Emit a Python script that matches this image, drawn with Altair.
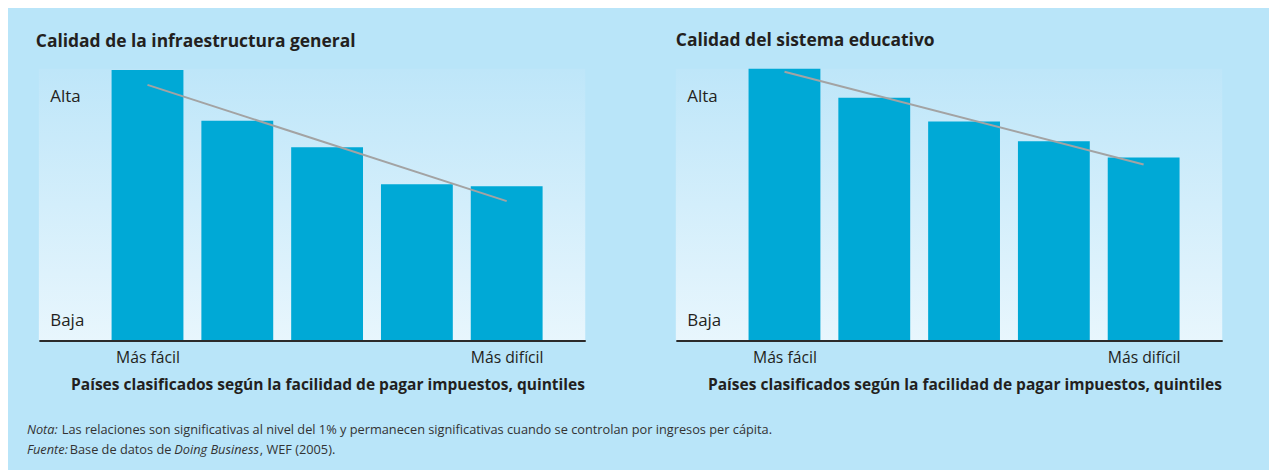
import altair as alt
import pandas as pd

# ---------------- data ----------------
quintiles = [1, 2, 3, 4, 5]
infra_values = [99.6, 80.9, 71.1, 57.5, 56.8]
edu_values = [100.0, 89.4, 80.6, 73.3, 67.4]
trend_q = [1, 5]
infra_trend = [94.1, 51.3]
edu_trend = [98.9, 64.8]
y_tick_values = [7.3, 89.7]
y_tick_labels = ["Baja", "Alta"]
x_tick_values = [1, 5]
x_tick_labels = ["Más fácil", "Más difícil"]
panel_titles = ["Calidad de la infraestructura general", "Calidad del sistema educativo"]
x_title = "Países clasificados según la facilidad de pagar impuestos, quintiles"
note_texts = ["Nota:", "Las relaciones son significativas al nivel del 1% y permanecen significativas cuando se controlan por ingresos per cápita."]
source_texts = ["Fuente:", "Base de datos de", "Doing Business", ", WEF (2005)."]

# ---------------- style ----------------
W, H = 549, 273
FONT = "Open Sans"
TXT = "#231f20"
BG = "#b9e5f9"
BAR = "#00a9d6"

xscale = alt.Scale(domain=[-0.21, 5.875], nice=False, zero=False)
yscale = alt.Scale(domain=[0, 100], nice=False)

x_label_expr = f"datum.value == {x_tick_values[0]} ? '{x_tick_labels[0]}' : '{x_tick_labels[1]}'"
y_label_expr = f"datum.value < 50 ? '{y_tick_labels[0]}' : '{y_tick_labels[1]}'"


def panel(title, values, trend, title_dx, footnote=False):
    df = pd.DataFrame({"q": quintiles, "v": values})
    tdf = pd.DataFrame({"q": trend_q, "v": trend})

    bg = alt.Chart(pd.DataFrame({"a": [0]})).mark_rect(
        color=alt.Gradient(
            gradient="linear",
            stops=[alt.GradientStop(color="#bee6f9", offset=0),
                   alt.GradientStop(color="#e8f6fd", offset=1)],
            x1=0, x2=0, y1=0, y2=1,
        )
    ).encode(x=alt.value(0), x2=alt.value(W), y=alt.value(0), y2=alt.value(H))

    bars = alt.Chart(df).transform_calculate(
        x0="datum.q - 0.4", x1="datum.q + 0.4"
    ).mark_rect(color=BAR).encode(
        x=alt.X("x0:Q", scale=xscale, axis=alt.Axis(
            values=x_tick_values, labelExpr=x_label_expr, title=x_title,
            grid=False, ticks=False, tickSize=0, domainColor="#2b2b2b", domainWidth=2,
            labelFont=FONT, labelFontSize=15.8, labelColor=TXT, labelPadding=10,
            titleFont=FONT, titleFontSize=15.6, titleFontWeight="bold", titleColor=TXT,
            titleX=290, titleY=44, titleBaseline="middle", zindex=1)),
        x2="x1:Q",
        y=alt.Y("v:Q", scale=yscale, axis=alt.Axis(
            values=y_tick_values, labelExpr=y_label_expr, title=None,
            grid=False, ticks=False, tickSize=0, domain=False,
            labelFont=FONT, labelFontSize=17, labelColor=TXT,
            labelAlign="left", labelPadding=-11, labelBaseline="middle", zindex=1)),
        y2=alt.datum(0),
    )

    line = alt.Chart(tdf).mark_line(color="#a3a3a3", strokeWidth=2).encode(
        x=alt.X("q:Q", scale=xscale), y=alt.Y("v:Q", scale=yscale))

    layers = [bg, bars, line]

    if footnote:
        def txt(s, x, y, italic=False):
            return alt.Chart(pd.DataFrame({"t": [s]})).mark_text(
                font=FONT, fontSize=12.85, color="#333333", align="left", baseline="middle",
                fontStyle="italic" if italic else "normal",
            ).encode(x=alt.value(x), y=alt.value(y), text="t:N")
        layers += [
            txt(note_texts[0], -12, 363, True),
            txt(note_texts[1], 23, 363),
            txt(source_texts[0], -12, 383, True),
            txt(source_texts[1], 31, 383),
            txt(source_texts[2], 136, 383, True),
            txt(source_texts[3], 222, 383),
        ]

    return alt.layer(*layers).properties(
        width=W, height=H,
        title=alt.TitleParams(title, anchor="start", frame="group", font=FONT, fontSize=17.5,
                              fontWeight="bold", color=TXT, dx=title_dx, offset=18),
    )


left = panel(panel_titles[0], infra_values, infra_trend, -3, footnote=True)
right = panel(panel_titles[1], edu_values, edu_trend, 0)

chart = alt.hconcat(left, right, spacing=91, bounds="flush").properties(
    background=BG,
    padding={"left": 18, "top": 23, "right": 46, "bottom": 18},
).configure_view(stroke="transparent")

chart.save("out.html", embed_options={"renderer": "svg", "actions": False})
